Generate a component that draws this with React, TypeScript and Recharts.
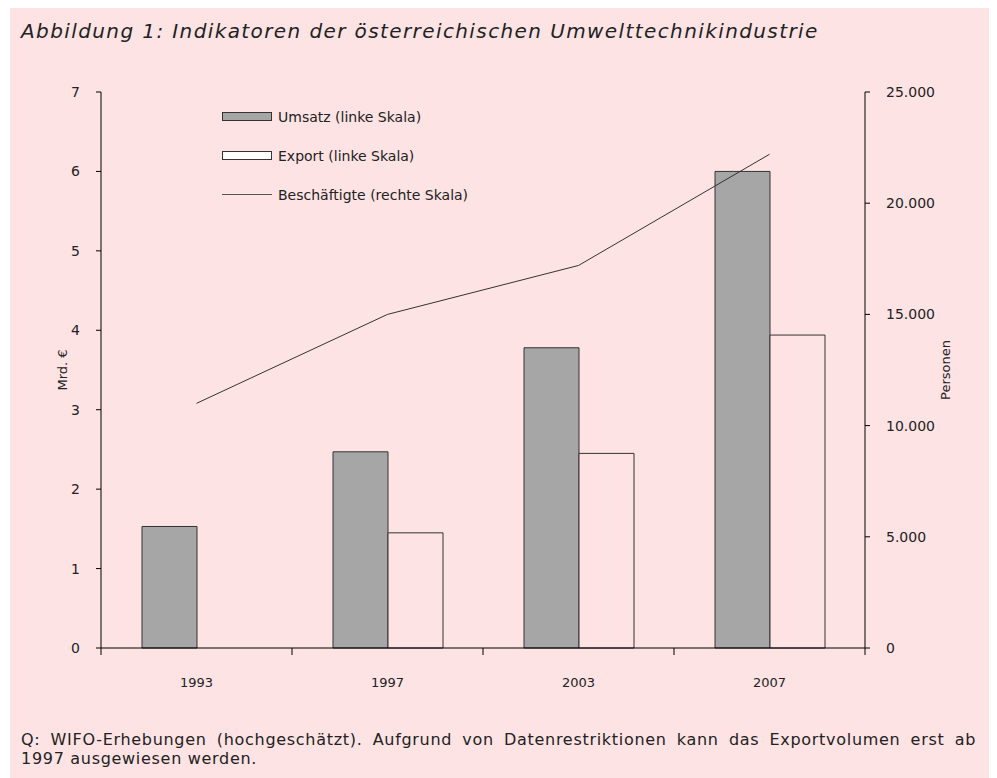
import React from "react";
import { ComposedChart, Bar, Line, XAxis, YAxis } from "recharts";

const YEARS = ["1993", "1997", "2003", "2007"];
const UMSATZ = [1.53, 2.47, 3.78, 6.0];
const EXPORT: (number | null)[] = [null, 1.45, 2.45, 3.94];
const BESCHAEFTIGTE = [11000, 15000, 17200, 22200];
const LEFT_TICKS = [0, 1, 2, 3, 4, 5, 6, 7];
const RIGHT_TICKS = [0, 5000, 10000, 15000, 20000, 25000];

const BG = "#fee3e4";
const FONT = "'DejaVu Sans', sans-serif";
const TEXT = "#222";

const CHART_W = 983;
const CHART_H = 700;
const MARGIN = { top: 84, right: 48, bottom: 20, left: 31 };
const LEFT_W = 60;
const RIGHT_W = 80;
const PLOT_W = CHART_W - MARGIN.left - MARGIN.right - LEFT_W - RIGHT_W;

const data = YEARS.map((year, i) => ({
  year,
  umsatz: UMSATZ[i],
  export: EXPORT[i],
  personen: BESCHAEFTIGTE[i],
}));

const fmtThousands = (v: number) =>
  String(v).replace(/\B(?=(\d{3})+(?!\d))/g, ".");

// year label in the band centre, tick marks on the band borders
const XTick = (props: any) => {
  const { x, y, payload, index } = props;
  const half = PLOT_W / YEARS.length / 2;
  return (
    <g>
      <line x1={x - half} x2={x - half} y1={y} y2={y + 7} stroke="#000" />
      {index === YEARS.length - 1 && (
        <line x1={x + half} x2={x + half} y1={y} y2={y + 7} stroke="#000" />
      )}
      <text
        x={x}
        y={y + 39}
        textAnchor="middle"
        fontSize={13}
        fill={TEXT}
        fontFamily={FONT}
      >
        {payload.value}
      </text>
    </g>
  );
};

const legendRows = [
  { label: "Umsatz (linke Skala)", kind: "grey" },
  { label: "Export (linke Skala)", kind: "white" },
  { label: "Beschäftigte (rechte Skala)", kind: "line" },
];

const ChartLegend = () => (
  <div
    style={{
      position: "absolute",
      left: 212,
      top: 89,
      fontFamily: FONT,
      fontSize: 14,
      color: TEXT,
    }}
  >
    {legendRows.map((r) => (
      <div
        key={r.label}
        style={{ display: "flex", alignItems: "center", height: 39 }}
      >
        {r.kind === "line" ? (
          <span
            style={{
              width: 50,
              height: 0,
              borderTop: "1px solid #555",
              marginRight: 6,
            }}
          />
        ) : (
          <span
            style={{
              width: 48,
              height: 7,
              border: "1px solid #333",
              background: r.kind === "grey" ? "#a6a6a6" : "#fff",
              marginRight: 6,
            }}
          />
        )}
        <span>{r.label}</span>
      </div>
    ))}
  </div>
);

const axisTitle = (text: string, dx: number) => (p: any) => {
  const vb = p.viewBox;
  const cx = vb.x + dx;
  const cy = vb.y + vb.height / 2;
  return (
    <text
      x={cx}
      y={cy}
      transform={`rotate(-90, ${cx}, ${cy})`}
      textAnchor="middle"
      dominantBaseline="central"
      fontSize={13}
      fill={TEXT}
      fontFamily={FONT}
    >
      {text}
    </text>
  );
};

export default function App() {
  return (
    <div
      style={{
        marginLeft: 2,
        width: 983,
        height: 770,
        background: BG,
        position: "relative",
        fontFamily: FONT,
        color: TEXT,
      }}
    >
      <div
        style={{
          position: "absolute",
          left: 11,
          top: 12,
          fontSize: 20,
          letterSpacing: 1.4,
          lineHeight: "22px",
          fontStyle: "italic",
          whiteSpace: "nowrap",
        }}
      >
        Abbildung 1: Indikatoren der österreichischen Umwelttechnikindustrie
      </div>
      <div style={{ position: "absolute", left: 0, top: 0 }}>
        <ComposedChart
          width={CHART_W}
          height={CHART_H}
          data={data}
          margin={MARGIN}
          barGap={0}
        >
          <XAxis
            dataKey="year"
            interval={0}
            tickSize={0}
            tickMargin={0}
            tickLine={false}
            tick={<XTick />}
            axisLine={{ stroke: "#000" }}
            height={40}
          />
          <YAxis
            yAxisId="left"
            domain={[0, 7]}
            ticks={LEFT_TICKS}
            width={LEFT_W}
            tickSize={5}
            tickMargin={16}
            axisLine={{ stroke: "#000" }}
            tickLine={{ stroke: "#000" }}
            tick={{ fill: TEXT, fontSize: 14, fontFamily: FONT }}
            label={{ content: axisTitle("Mrd. €", 21) }}
          />
          <YAxis
            yAxisId="right"
            orientation="right"
            domain={[0, 25000]}
            ticks={RIGHT_TICKS}
            width={RIGHT_W}
            tickSize={5}
            tickMargin={16}
            tickFormatter={fmtThousands}
            axisLine={{ stroke: "#000" }}
            tickLine={{ stroke: "#000" }}
            tick={{ fill: TEXT, fontSize: 14, fontFamily: FONT }}
            label={{ content: axisTitle("Personen", 80) }}
          />
          <Bar
            yAxisId="left"
            dataKey="umsatz"
            barSize={55}
            fill="#a6a6a6"
            stroke="#333"
            strokeWidth={1}
            isAnimationActive={false}
          />
          <Bar
            yAxisId="left"
            dataKey="export"
            barSize={55}
            fill={BG}
            stroke="#333"
            strokeWidth={1}
            isAnimationActive={false}
          />
          <Line
            yAxisId="right"
            type="linear"
            dataKey="personen"
            stroke="#333"
            strokeWidth={1}
            dot={false}
            activeDot={false}
            isAnimationActive={false}
          />
        </ComposedChart>
      </div>
      <ChartLegend />
      <div
        style={{
          position: "absolute",
          left: 11,
          top: 722,
          width: 955,
          fontSize: 16,
          letterSpacing: 0.7,
          lineHeight: "19px",
        }}
      >
        <div style={{ textAlign: "justify", textAlignLast: "justify" }}>
          Q: WIFO-Erhebungen (hochgeschätzt). Aufgrund von Datenrestriktionen
          kann das Exportvolumen erst ab
        </div>
        <div>1997 ausgewiesen werden.</div>
      </div>
    </div>
  );
}
